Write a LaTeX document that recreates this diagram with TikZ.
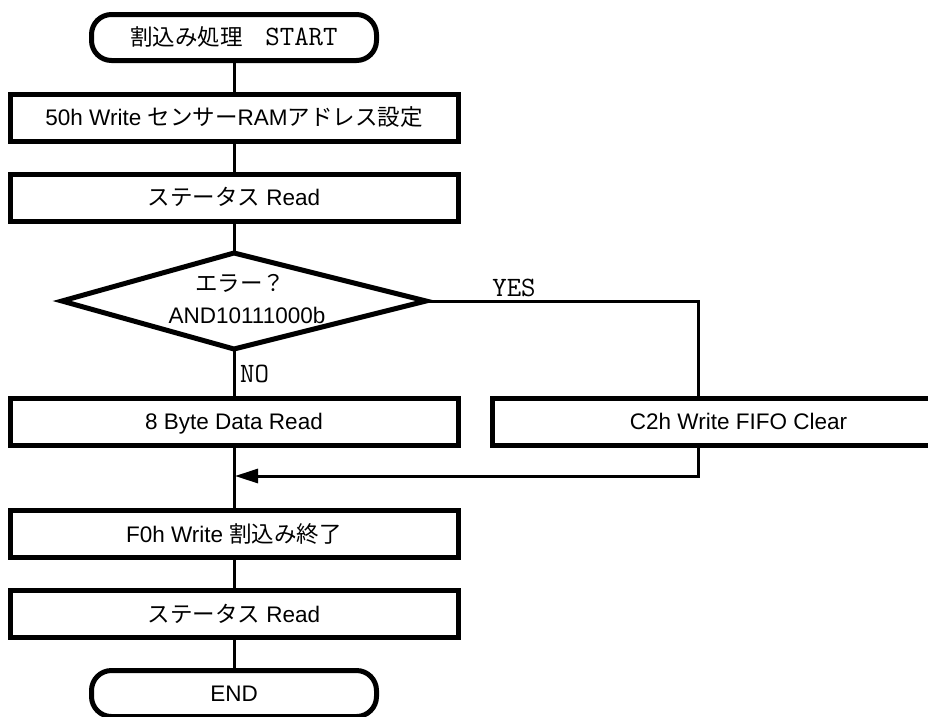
\documentclass[tikz,border=0pt]{standalone}
\usepackage{fontspec}
\setmainfont{Liberation Sans}
\newfontfamily\jp{Noto Sans CJK JP}
\usetikzlibrary{arrows.meta}
\begin{document}
\begin{tikzpicture}[x=1pt,y=-1pt,
  every node/.style={font=\fontsize{22.5}{26}\selectfont},
  procbox/.style={draw, line width=5pt, minimum width=448pt, minimum height=47pt, inner sep=0pt, text height=16pt, text depth=0pt},
  termbox/.style={draw, line width=5pt, rounded corners=20pt, minimum width=285pt, minimum height=46pt, inner sep=0pt, text height=16pt, text depth=0pt},
  conn/.style={line width=3pt},
  lbl/.style={anchor=base, inner sep=0pt},
  monolbl/.style={font=\ttfamily\fontsize{28}{30}\selectfont}]
\useasboundingbox (0,0) rectangle (928,716);
\clip (0,0) rectangle (928,716);
% process column
\node[termbox] (start) at (234,37.5) {{\jp 割込み処理　}{\ttfamily\fontsize{28}{30}\selectfont START}};
\node[procbox] (b1) at (234,117.5) {50h Write {\jp センサー}RAM{\jp アドレス設定}};
\node[procbox] (b2) at (234,197.5) {{\jp ステータス} Read};
% decision
\coordinate (dt) at (234,253);
\coordinate (dr) at (426,301);
\coordinate (db) at (234,349);
\coordinate (dl) at (62,301);
\draw[line width=5pt] (dt) -- (dr) -- (db) -- (dl) -- cycle;
\node[lbl] (q1) at (240,291) {\jp エラー？};
\node[lbl] (q2) at (247,323) {AND10111000b};
% branches
\node[procbox] (byte) at (234,421.5) {8 Byte Data Read};
\node[procbox, minimum width=492pt] (clr) at (738.5,421.5) {C2h Write FIFO Clear};
\node[procbox] (f0h) at (234,534) {F0h Write {\jp 割込み終了}};
\node[procbox] (st2) at (234,614) {{\jp ステータス} Read};
\node[termbox] (end) at (234,693.5) {END};
% connectors
\draw[conn] (start.south) -- (b1.north);
\draw[conn] (b1.south) -- (b2.north);
\draw[conn] (b2.south) -- (dt);
\draw[conn] (db) -- (byte.north);
\draw[conn] (byte.south) -- (f0h.north);
\draw[conn] (f0h.south) -- (st2.north);
\draw[conn] (st2.south) -- (end.north);
\coordinate (yc) at (698,301);
\draw[conn] (dr) -- (yc) -- (yc |- clr.north);
\coordinate (join) at (235,476);
\draw[conn, -{Triangle[length=23pt,width=14pt]}] (yc |- clr.south) |- (join);
% labels
\node[lbl, monolbl] (yes) at (514,296) {YES};
\node[lbl, monolbl, anchor=base west] (no) at (240,382) {NO};
\end{tikzpicture}
\end{document}
